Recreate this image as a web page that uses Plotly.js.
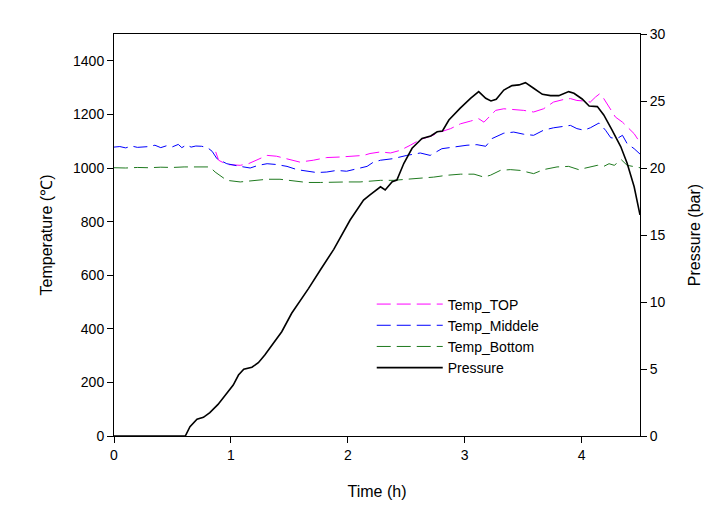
<!DOCTYPE html>
<html>
<head>
<meta charset="utf-8">
<script src="https://cdn.plot.ly/plotly-3.0.1.min.js"></script>
<style>
  body { margin: 0; background: white; }
  #graph-container { width: 718px; height: 517px; }
</style>
</head>
<body>
<div id="graph-container"></div>
<script>
// Temp_TOP (°C)
const topTime = [0.87, 0.895, 0.965, 1.08, 1.15, 1.22, 1.31, 1.39, 1.48, 1.59, 1.705, 1.82, 1.935, 2.05, 2.135, 2.19, 2.28, 2.365, 2.45, 2.535, 2.62, 2.705, 2.79, 2.88, 2.965, 3.05, 3.12, 3.165, 3.205, 3.265, 3.335, 3.42, 3.505, 3.59, 3.675, 3.76, 3.85, 3.905, 3.96, 4.02, 4.075, 4.12, 4.155, 4.19, 4.235, 4.29, 4.35, 4.39, 4.45, 4.5];
const topTemp = [1060, 1029, 1013, 1010, 1016, 1029, 1047, 1044, 1035, 1022, 1029, 1039, 1041, 1044, 1047, 1054, 1060, 1056, 1066, 1085, 1106, 1118, 1134, 1147, 1165, 1175, 1184, 1171, 1188, 1215, 1221, 1218, 1215, 1209, 1221, 1246, 1256, 1259, 1252, 1250, 1246, 1265, 1277, 1259, 1227, 1190, 1171, 1153, 1128, 1095];

// Temp_Middele (°C)
const midTime = [0, 0.05, 0.1, 0.15, 0.2, 0.25, 0.3, 0.35, 0.4, 0.45, 0.5, 0.55, 0.58, 0.62, 0.66, 0.7, 0.75, 0.8, 0.84, 0.88, 0.965, 1.08, 1.165, 1.235, 1.31, 1.39, 1.48, 1.565, 1.65, 1.735, 1.82, 1.905, 1.99, 2.08, 2.165, 2.22, 2.28, 2.39, 2.505, 2.62, 2.705, 2.805, 2.905, 3.02, 3.105, 3.18, 3.235, 3.335, 3.42, 3.505, 3.59, 3.675, 3.76, 3.85, 3.905, 3.96, 4.02, 4.075, 4.15, 4.205, 4.25, 4.305, 4.35, 4.39, 4.45, 4.5];
const midTemp = [1078, 1080, 1075, 1082, 1077, 1079, 1080, 1085, 1076, 1083, 1079, 1088, 1076, 1086, 1078, 1082, 1081, 1076, 1062, 1035, 1016, 1006, 1000, 1010, 1016, 1013, 1006, 994, 989, 983, 985, 991, 988, 998, 1006, 1022, 1029, 1035, 1047, 1056, 1047, 1072, 1078, 1085, 1087, 1081, 1110, 1130, 1134, 1126, 1122, 1141, 1150, 1155, 1159, 1147, 1141, 1150, 1168, 1141, 1113, 1110, 1122, 1091, 1072, 1052];

// Temp_Bottom (°C)
const botTime = [0, 0.1, 0.2, 0.3, 0.4, 0.5, 0.6, 0.7, 0.82, 0.865, 0.965, 1.08, 1.195, 1.31, 1.42, 1.535, 1.65, 1.765, 1.88, 1.995, 2.105, 2.22, 2.28, 2.39, 2.505, 2.62, 2.735, 2.85, 2.965, 3.08, 3.165, 3.22, 3.305, 3.39, 3.475, 3.59, 3.675, 3.79, 3.89, 3.975, 4.05, 4.135, 4.19, 4.235, 4.28, 4.34, 4.39, 4.46, 4.5];
const botTemp = [1001, 1000, 1002, 1001, 1003, 1002, 1004, 1003, 1004, 985, 954, 948, 952, 958, 958, 952, 946, 946, 948, 948, 948, 952, 954, 954, 958, 963, 966, 973, 977, 977, 966, 973, 991, 994, 991, 979, 994, 1004, 1006, 994, 1001, 1010, 1006, 1016, 1010, 1031, 1010, 1004, 1001];

// Pressure (bar)
const presTime = [0, 0.3, 0.61, 0.65, 0.71, 0.765, 0.82, 0.89, 0.965, 1.02, 1.065, 1.11, 1.18, 1.235, 1.29, 1.365, 1.435, 1.52, 1.59, 1.665, 1.765, 1.88, 2.02, 2.135, 2.19, 2.28, 2.32, 2.38, 2.42, 2.48, 2.55, 2.635, 2.71, 2.765, 2.81, 2.865, 2.96, 3.05, 3.12, 3.18, 3.225, 3.27, 3.335, 3.405, 3.465, 3.52, 3.59, 3.665, 3.735, 3.805, 3.89, 3.935, 4.005, 4.065, 4.135, 4.19, 4.26, 4.335, 4.39, 4.45, 4.5];
const presVal = [0, 0, 0, 0.69, 1.25, 1.39, 1.74, 2.36, 3.19, 3.8, 4.55, 4.98, 5.13, 5.47, 6.04, 6.92, 7.78, 9.16, 10.02, 11.02, 12.39, 13.93, 16.12, 17.6, 18.0, 18.6, 18.36, 18.98, 19.1, 20.35, 21.47, 22.2, 22.39, 22.7, 22.76, 23.58, 24.45, 25.2, 25.7, 25.2, 25.0, 25.13, 25.82, 26.15, 26.2, 26.37, 25.95, 25.5, 25.4, 25.4, 25.7, 25.58, 25.15, 24.63, 24.58, 23.96, 22.84, 21.6, 20.35, 18.6, 16.5];

const graphContainer = document.getElementById('graph-container');

const font = { family: '"Liberation Sans", Arial, sans-serif', color: '#000' };

const traces = [
    {
        x: topTime, y: topTemp, type: 'scatter', mode: 'lines',
        name: 'Temp_TOP',
        line: { color: '#ff00ff', width: 1, dash: '14px,6px' }
    },
    {
        x: midTime, y: midTemp, type: 'scatter', mode: 'lines',
        name: 'Temp_Middele',
        line: { color: '#0000ff', width: 1, dash: '14px,6px' }
    },
    {
        x: botTime, y: botTemp, type: 'scatter', mode: 'lines',
        name: 'Temp_Bottom',
        line: { color: '#1f7a1f', width: 1, dash: '14px,6px' }
    },
    {
        x: presTime, y: presVal, type: 'scatter', mode: 'lines',
        name: 'Pressure', yaxis: 'y2',
        line: { color: '#000', width: 1.6 }
    }
];

const layout = {
    width: 718,
    height: 517,
    margin: { l: 114, r: 78, t: 34, b: 81 },
    paper_bgcolor: 'white',
    plot_bgcolor: 'white',
    font: Object.assign({ size: 14 }, font),
    showlegend: true,
    legend: {
        x: 0.49, y: 0.367, xanchor: 'left', yanchor: 'top',
        bgcolor: 'rgba(0,0,0,0)',
        itemwidth: 66,
        font: Object.assign({ size: 14 }, font),
        tracegroupgap: 0
    },
    xaxis: {
        range: [0, 4.5],
        dtick: 1,
        ticks: 'outside', ticklen: 6, tickwidth: 1, tickcolor: '#000',
        showline: true, linecolor: '#000', linewidth: 1, mirror: true,
        showgrid: false, zeroline: false,
        title: { text: 'Time (h)', font: Object.assign({ size: 16 }, font), standoff: 24 }
    },
    yaxis: {
        range: [0, 1500],
        tickvals: [0, 200, 400, 600, 800, 1000, 1200, 1400],
        ticks: 'outside', ticklen: 6, tickwidth: 1, tickcolor: '#000',
        showline: true, linecolor: '#000', linewidth: 1,
        showgrid: false, zeroline: false,
        title: { text: 'Temperature (℃)', font: Object.assign({ size: 16 }, font), standoff: 16 }
    },
    yaxis2: {
        range: [0, 30],
        dtick: 5,
        overlaying: 'y', side: 'right',
        ticks: 'outside', ticklen: 6, tickwidth: 1, tickcolor: '#000',
        showline: true, linecolor: '#000', linewidth: 1,
        showgrid: false, zeroline: false,
        title: { text: 'Pressure (bar)', font: Object.assign({ size: 16 }, font), standoff: 24 }
    }
};

Plotly.newPlot(graphContainer, traces, layout, { displayModeBar: false });
</script>
</body>
</html>
